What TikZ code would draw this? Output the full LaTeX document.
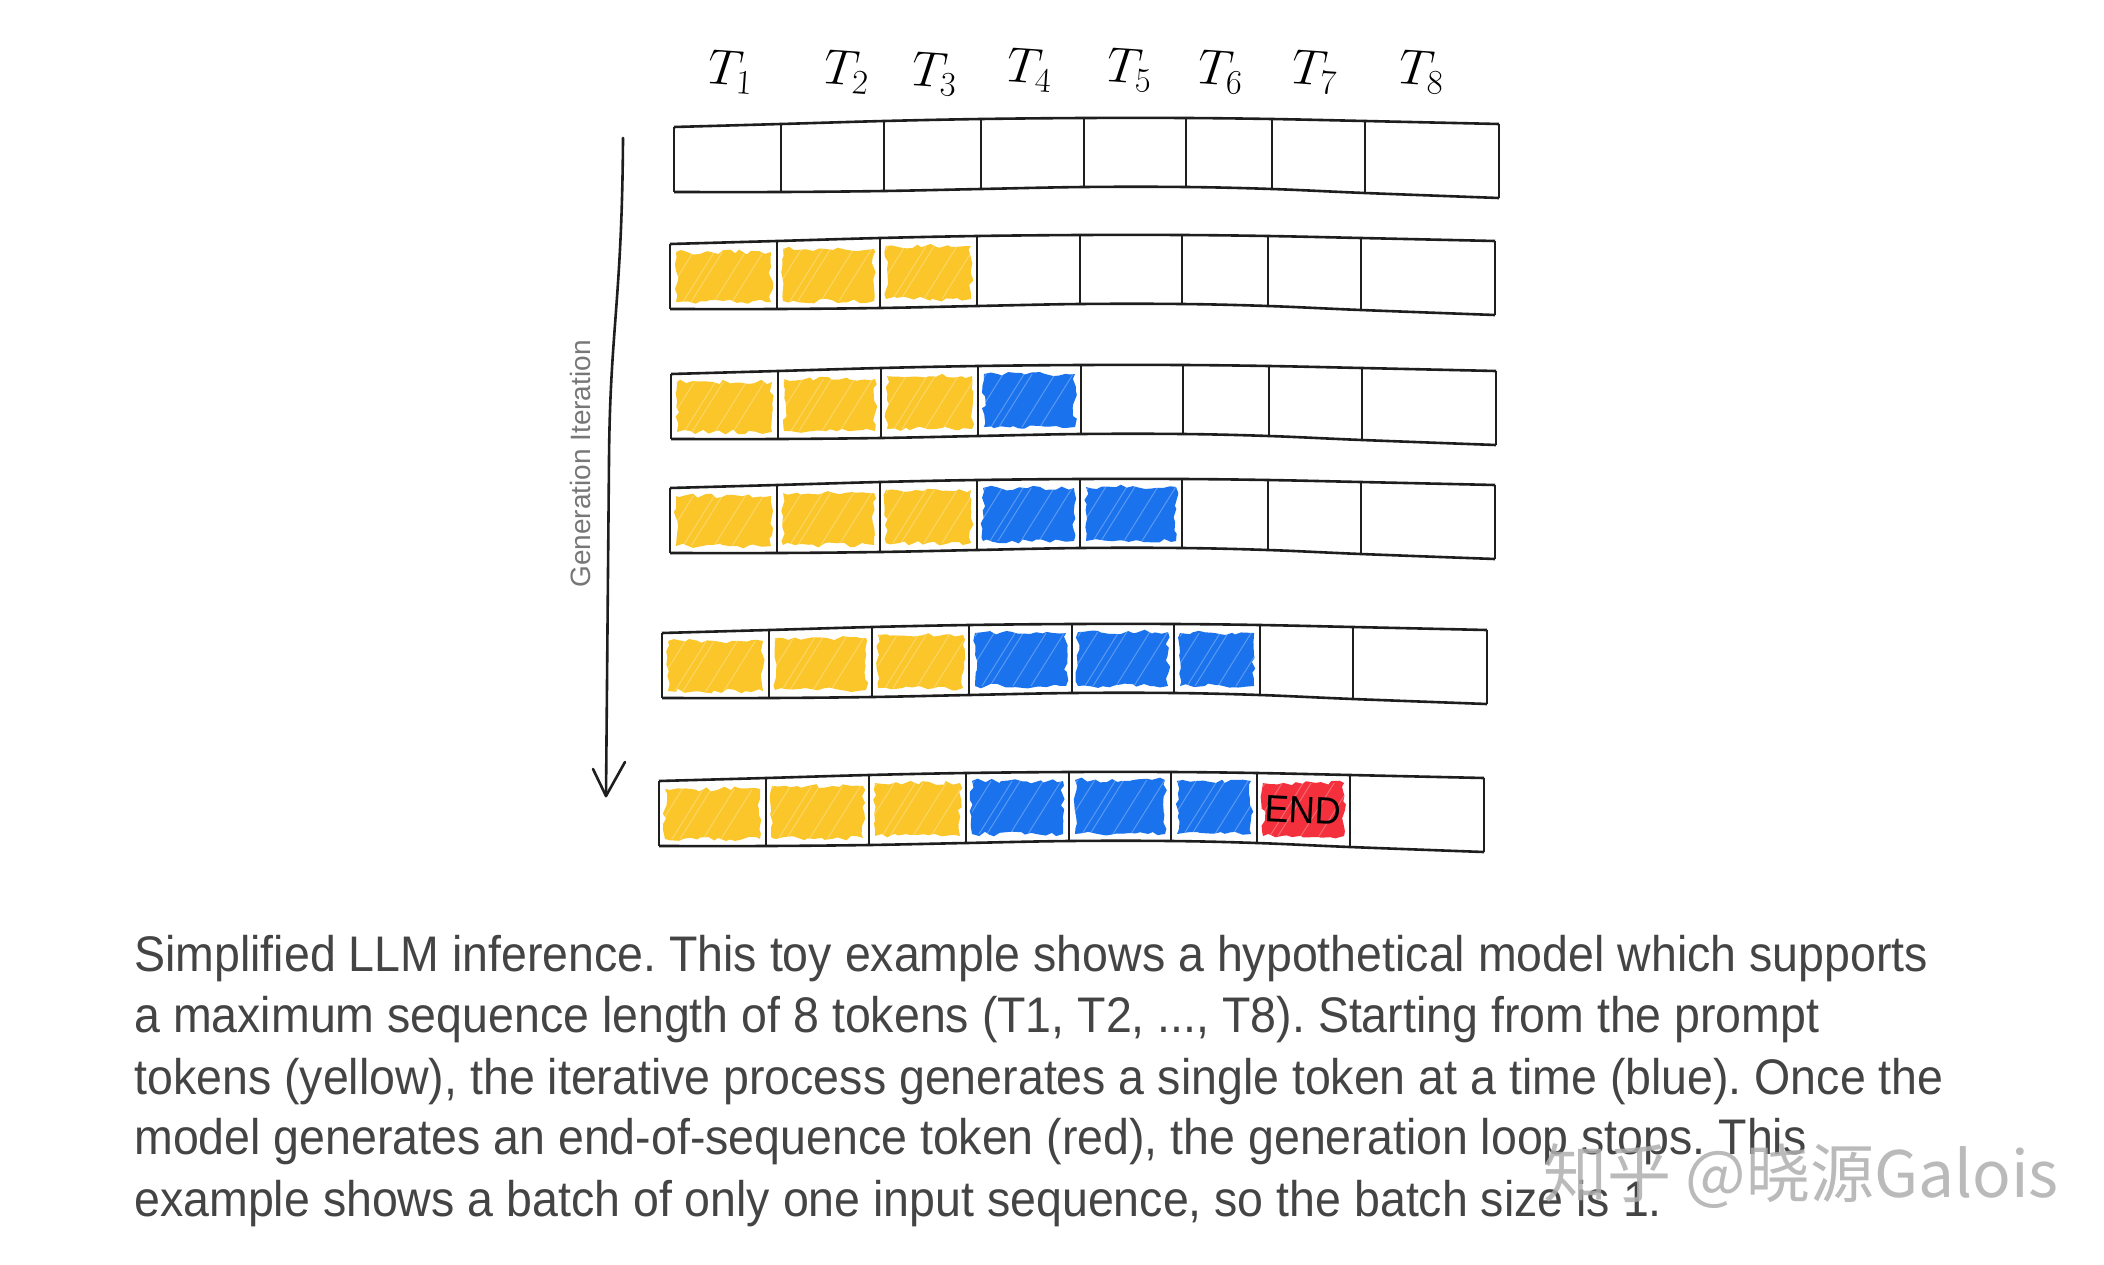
\documentclass[tikz,border=0pt]{standalone}
\usepackage{fontspec}
\setmainfont{Liberation Sans}
\newfontfamily\capfont[FakeStretch=0.93]{Liberation Sans}
\newfontfamily\cjkfont{Noto Sans CJK SC}
\usetikzlibrary{decorations.pathmorphing,calc}
\definecolor{tokyellow}{HTML}{FAC62A}
\definecolor{tokblue}{HTML}{1A72EC}
\definecolor{tokred}{HTML}{F3303C}
\definecolor{captext}{HTML}{444444}
\definecolor{labelgray}{HTML}{777777}
\definecolor{wmgray}{HTML}{AEAEAE}
\definecolor{framecol}{HTML}{1E1E1E}
\def\bx{{0,107,210,307,410,512,598,691,825}}
\def\tyo{{0,-3,-6,-8,-9,-9,-8,-6,-3}}
\def\byo{{65,65,64,62,60,60,62,66,71}}
\tikzset{
  frame/.style={draw=framecol, line width=1.3pt, line join=round},
  rough/.style={decorate, decoration={random steps, segment length=3pt, amplitude=1.2pt}},
  streak/.style={white, opacity=.28, line width=.5pt},
  tlabel/.style={font=\fontsize{24}{24}\selectfont, inner sep=0pt},
  caption/.style={anchor=base west, inner sep=0pt, text=captext, font=\capfont\fontsize{25}{28}\selectfont},
}
% #1 name, #2 x0, #3 y0, #4 list of cell/colour
\newcommand\seqrow[4]{%
  \foreach \i in {0,...,8}{%
    \pgfmathsetmacro\xx{#2+\bx[\i]}%
    \pgfmathsetmacro\yt{#3+\tyo[\i]}%
    \pgfmathsetmacro\yb{#3+\byo[\i]}%
    \coordinate (#1t\i) at (\xx,\yt);
    \coordinate (#1b\i) at (\xx,\yb);
  }%
  \foreach \c/\col in {#4}{%
    \pgfmathtruncatemacro\n{\c+1}%
    \pgfmathsetmacro\xa{#2+\bx[\c]+6}%
    \pgfmathsetmacro\xb{#2+\bx[\n]-6}%
    \pgfmathsetmacro\ya{#3+max(\tyo[\c],\tyo[\n])+8}%
    \pgfmathsetmacro\yb{#3+min(\byo[\c],\byo[\n])-7}%
    \fill[\col, rough] (\xa,\ya) rectangle (\xb,\yb);
    \begin{scope}
      \clip (\xa,\ya) rectangle (\xb,\yb);
      \foreach \k in {14,31,52,60,83,101}{%
        \draw[streak] (\xa+\k-45,\yb) -- ++(50,-80);
      }
    \end{scope}
  }%
  \draw[frame] plot[smooth, tension=.6] coordinates {(#1t0) (#1t1) (#1t2) (#1t3) (#1t4) (#1t5) (#1t6) (#1t7) (#1t8)};
  \draw[frame] plot[smooth, tension=.6] coordinates {(#1b0) (#1b1) (#1b2) (#1b3) (#1b4) (#1b5) (#1b6) (#1b7) (#1b8)};
  \foreach \i in {0,...,8}{\draw[frame] (#1t\i) -- (#1b\i);}
}
\begin{document}
\begin{tikzpicture}[x=0.5pt, y=-0.5pt]
\useasboundingbox (0,0) rectangle (2104,1264);
\fill[white] (0,0) rectangle (2104,1264);
\pgfmathsetseed{7}
\frenchspacing

% header labels
\node[tlabel, rotate=-4] (t1) at (731,72) {$T_1$};
\node[tlabel, rotate=-4] (t2) at (847,72) {$T_2$};
\node[tlabel, rotate=-4] (t3) at (935,74) {$T_3$};
\node[tlabel, rotate=-4] (t4) at (1030,70) {$T_4$};
\node[tlabel, rotate=-4] (t5) at (1130,70) {$T_5$};
\node[tlabel, rotate=-4] (t6) at (1221,72) {$T_6$};
\node[tlabel, rotate=-4] (t7) at (1315,72) {$T_7$};
\node[tlabel, rotate=-4] (t8) at (1422,72) {$T_8$};

% rows
\seqrow{ra}{674}{127}{}
\seqrow{rb}{670}{244}{0/tokyellow,1/tokyellow,2/tokyellow}
\seqrow{rc}{671}{374}{0/tokyellow,1/tokyellow,2/tokyellow,3/tokblue}
\seqrow{rd}{670}{488}{0/tokyellow,1/tokyellow,2/tokyellow,3/tokblue,4/tokblue}
\seqrow{re}{662}{633}{0/tokyellow,1/tokyellow,2/tokyellow,3/tokblue,4/tokblue,5/tokblue}
\seqrow{rf}{659}{781}{0/tokyellow,1/tokyellow,2/tokyellow,3/tokblue,4/tokblue,5/tokblue,6/tokred}
\node[inner sep=0pt, font=\fontsize{19}{19}\selectfont, rotate=-3, xscale=.95] (endlbl) at ($(rft6)!.5!(rfb7)$) {END};

% generation arrow
\coordinate (arrtop) at (623,138);
\coordinate (arrtip) at (606,796);
\draw[framecol, line width=1.3pt, line cap=round] (arrtop) .. controls (622,300) and (610,330) .. (609,460) -- (arrtip);
\draw[framecol, line width=1.3pt, line cap=round, line join=round] ($(arrtip)+(-13,-27)$) -- (arrtip) -- ($(arrtip)+(19,-34)$);
\node[rotate=90, text=labelgray, font=\fontsize{14}{14}\selectfont, inner sep=0pt] (genlbl) at (580,464) {Generation Iteration};

% caption
\node[caption] (cap1) at (134,971) {Simplified LLM inference. This toy example shows a hypothetical model which supports};
\node[caption] (cap2) at (134,1032) {a maximum sequence length of 8 tokens (T1, T2, ..., T8). Starting from the prompt};
\node[caption] (cap3) at (134,1094) {tokens (yellow), the iterative process generates a single token at a time (blue). Once the};
\node[caption] (cap4) at (134,1154) {model generates an end-of-sequence token (red), the generation loop stops. This};
\node[caption] (cap5) at (134,1216) {example shows a batch of only one input sequence, so the batch size is 1.};

% watermark
\node[anchor=base west, inner sep=0pt, text=wmgray, opacity=.85, font=\cjkfont\fontsize{32}{32}\selectfont] (wm) at (1543,1197) {知乎 @晓源Galois};
\end{tikzpicture}
\end{document}
